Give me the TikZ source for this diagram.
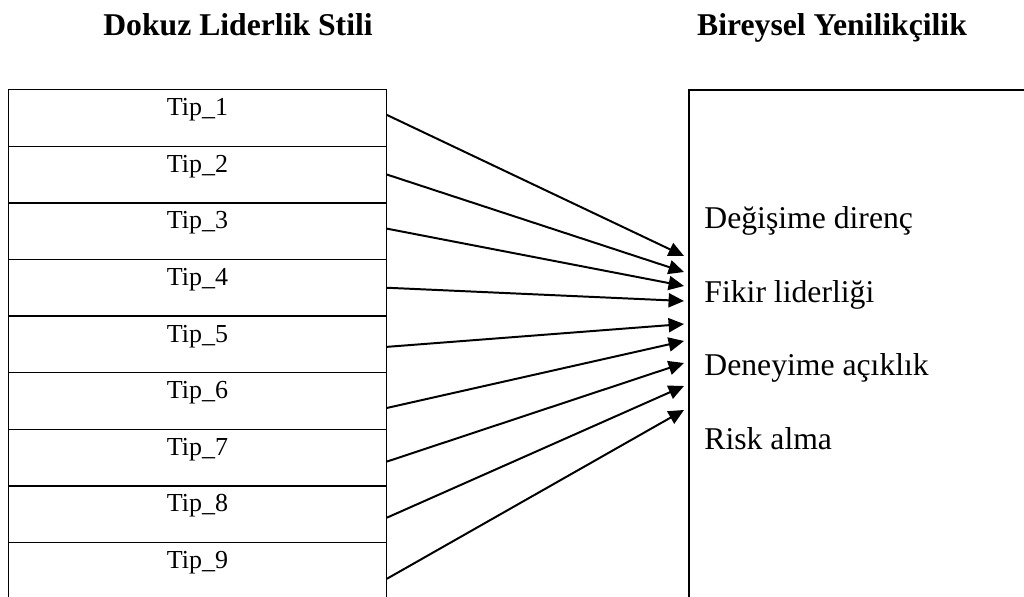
\documentclass[tikz,border=0pt]{standalone}
\usepackage{fontspec}
\setmainfont{Liberation Serif}
\usetikzlibrary{arrows.meta, calc}

\begin{document}
\begin{tikzpicture}[x=0.4545pt, y=-0.4545pt]
\tikzstyle{every node} = [inner sep=0pt]
\tikzstyle{baslik} = [font=\fontsize{14.4}{17}\selectfont\bfseries, anchor=base]
\tikzstyle{tipkutu} = [draw, line width=0.6pt, anchor=north, minimum width=171.6pt, minimum height=25.72pt, text height=11.8pt, text depth=13.9pt, font=\fontsize{11.8}{14}\selectfont]
\tikzstyle{madde} = [anchor=base west, font=\fontsize{14.4}{17}\selectfont]
\tikzstyle{ok} = [-{Triangle[length=7pt, width=6.4pt]}, line width=0.9pt]
\useasboundingbox (0, 0) rectangle (1024, 597);

\node[baslik] (sol) at (238, 36) {Dokuz Liderlik Stili};
\node[baslik] (sag) at (832, 36) {Bireysel Yenilikçilik};

\foreach \i in {1,...,9}
\node[tipkutu] (tip\i) at (197.5, {89+56.6*(\i-1)}) {Tip\_\i};

\node[draw, line width=0.9pt, anchor=north west, minimum width=182pt, minimum height=255pt] (yenilik) at (688, 89) {};
\node[madde] (m1) at (704, 229) {Değişime direnç};
\node[madde] (m2) at (704, 303) {Fikir liderliği};
\node[madde] (m3) at (704, 376) {Deneyime açıklık};
\node[madde] (m4) at (704, 450) {Risk alma};

\foreach \i/\dy/\ty in {1/-3/256, 2/0/272, 3/-2.5/286, 4/0/301, 5/2.5/324, 6/7/341, 7/4/363, 8/3.5/386, 9/8/410} {
\coordinate (uc\i) at (684, \ty);
\draw[ok] ($(tip\i.east)+(0, \dy)$) -- (uc\i);
}
\end{tikzpicture}
\end{document}
